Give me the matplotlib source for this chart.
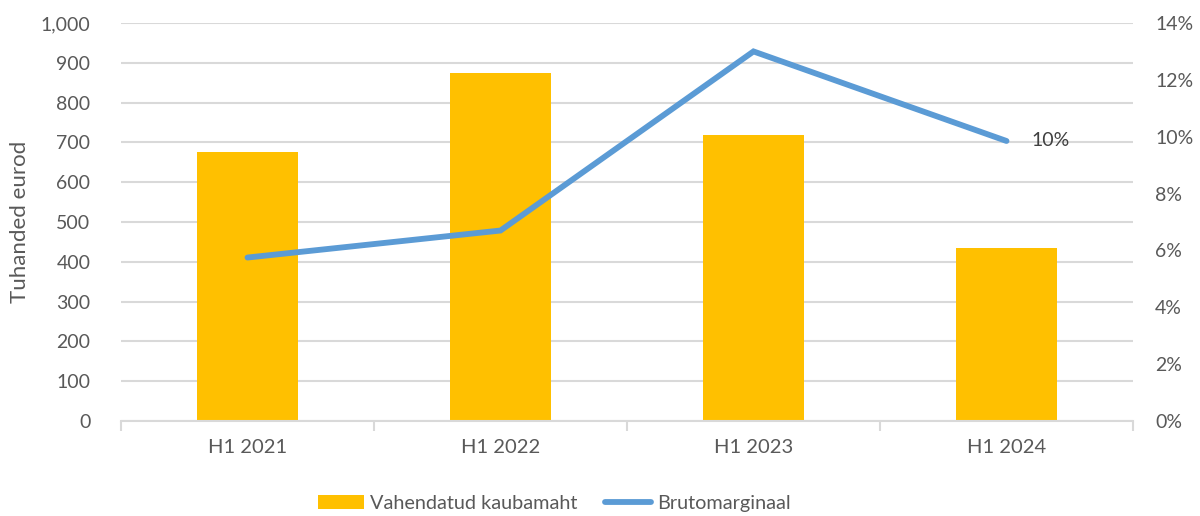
import matplotlib
matplotlib.use("Agg")
import matplotlib.pyplot as plt
from matplotlib.ticker import FuncFormatter, MultipleLocator

categories = ["H1 2021", "H1 2022", "H1 2023", "H1 2024"]
volume = [676, 874, 718, 434]          # Tuhanded eurod
margin = [5.75, 6.7, 13.0, 9.85]        # %
bar_label = "Vahendatud kaubamaht"
line_label = "Brutomarginaal"
ylabel = "Tuhanded eurod"

plt.rcParams['font.family'] = ['Lato', 'DejaVu Sans']
txt = "#595959"
grid = "#D9D9D9"

fig = plt.figure(figsize=(12, 5.16), dpi=100)
ax = fig.add_axes([121/1200, 95/516, (1133-121)/1200, (421-23)/516])
x = list(range(len(categories)))
bars = ax.bar(x, volume, width=0.40, color="#FFC000", label=bar_label, zorder=2)
ax.set_xlim(-0.5, len(categories) - 0.5)
ax.set_ylim(0, 1000)
ax.yaxis.set_major_locator(MultipleLocator(100))
ax.yaxis.set_major_formatter(FuncFormatter(lambda v, p: f"{int(v):,}"))
ax.grid(axis="y", color=grid, linewidth=1.5, zorder=0)
ax.set_axisbelow(True)
for s in ["top", "right", "left"]:
    ax.spines[s].set_visible(False)
ax.spines["bottom"].set_color(grid)
ax.spines["bottom"].set_linewidth(1.5)
ax.set_xticks(x)
ax.set_xticklabels(categories)
ax.tick_params(axis="x", length=0, pad=13, labelsize=14.5, labelcolor=txt)
ax.set_xticks([i - 0.5 for i in range(len(categories) + 1)], minor=True)
ax.tick_params(axis="x", which="minor", length=7, width=1.5, color=grid, direction="out")
ax.tick_params(axis="y", length=0, pad=22, labelsize=14, labelcolor=txt)
ax.set_ylabel(ylabel, fontsize=16, color=txt, labelpad=8)

ax2 = ax.twinx()
line, = ax2.plot(x, margin, color="#5B9BD5", linewidth=4.2, solid_capstyle="round",
                 solid_joinstyle="miter", label=line_label, zorder=3)
ax2.set_ylim(0, 14)
ax2.yaxis.set_major_locator(MultipleLocator(2))
ax2.yaxis.set_major_formatter(FuncFormatter(lambda v, p: f"{int(round(v))}%"))
for s in ax2.spines.values():
    s.set_visible(False)
ax2.tick_params(axis="y", length=0, pad=16, labelsize=14, labelcolor=txt)
ax2.annotate(f"{margin[-1]:.0f}%", (x[-1], margin[-1]), xytext=(18, 0),
             textcoords="offset points", va="center", ha="left", fontsize=14, color="#404040")

fig.legend([bars, line], [bar_label, line_label], loc="center", bbox_to_anchor=(0.462, 0.025),
           ncol=2, frameon=False, fontsize=14.3, labelcolor=txt, handlelength=2.3,
           columnspacing=1.4, handletextpad=0.3)

fig.savefig("out.png", dpi=100)
